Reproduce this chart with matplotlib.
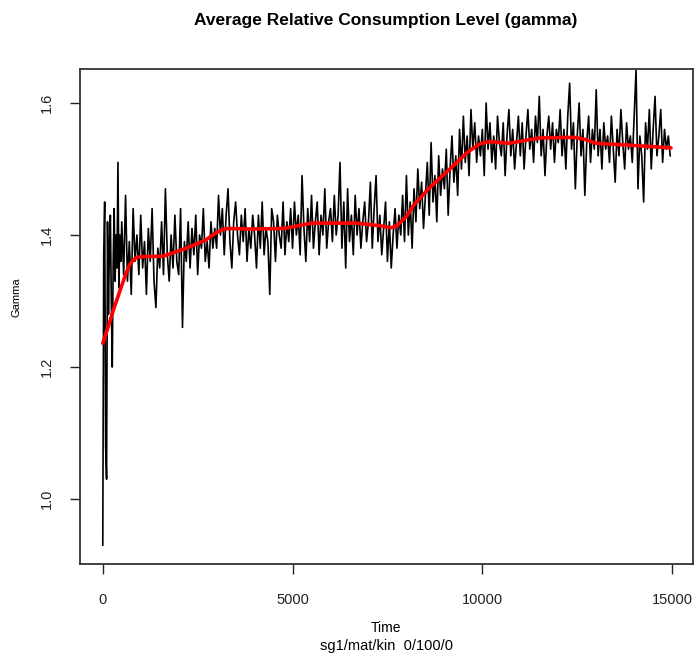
import numpy as np
import matplotlib
matplotlib.use('Agg')
import matplotlib.pyplot as plt

plt.rcParams['font.family'] = ['Liberation Sans', 'DejaVu Sans']

# time steps of the raw series (denser at the start)
time = np.concatenate([np.arange(0, 500, 25), np.arange(500, 15000, 50)])

gamma = [
    # 0 - 475 (step 25)
    0.93, 1.37, 1.45, 1.08, 1.03, 1.42, 1.28, 1.38, 1.43, 1.30,
    1.20, 1.36, 1.44, 1.33, 1.40, 1.35, 1.51, 1.32, 1.40, 1.36,
    # 500 - 950
    1.42, 1.34, 1.46, 1.33, 1.39, 1.31, 1.44, 1.36, 1.40, 1.34,
    # 1000 - 1950
    1.43, 1.35, 1.39, 1.31, 1.41, 1.36, 1.44, 1.33, 1.29, 1.38,
    1.35, 1.42, 1.34, 1.47, 1.37, 1.33, 1.40, 1.35, 1.43, 1.36,
    # 2000 - 2950
    1.34, 1.44, 1.26, 1.39, 1.36, 1.42, 1.35, 1.41, 1.37, 1.43,
    1.34, 1.40, 1.38, 1.44, 1.36, 1.39, 1.35, 1.42, 1.38, 1.41,
    # 3000 - 3950
    1.38, 1.46, 1.40, 1.44, 1.37, 1.43, 1.47, 1.39, 1.35, 1.42,
    1.45, 1.40, 1.37, 1.43, 1.39, 1.44, 1.36, 1.41, 1.38, 1.43,
    # 4000 - 4950
    1.40, 1.35, 1.43, 1.38, 1.45, 1.37, 1.41, 1.39, 1.31, 1.44,
    1.42, 1.36, 1.43, 1.40, 1.38, 1.45, 1.37, 1.42, 1.39, 1.44,
    # 5000 - 5950
    1.38, 1.45, 1.40, 1.43, 1.37, 1.49, 1.41, 1.36, 1.44, 1.39,
    1.46, 1.38, 1.42, 1.45, 1.37, 1.43, 1.40, 1.47, 1.38, 1.42,
    # 6000 - 6950
    1.44, 1.39, 1.46, 1.40, 1.43, 1.51, 1.38, 1.45, 1.35, 1.47,
    1.39, 1.43, 1.37, 1.46, 1.40, 1.44, 1.38, 1.42, 1.45, 1.39,
    # 7000 - 7950
    1.42, 1.48, 1.38, 1.44, 1.49, 1.39, 1.43, 1.37, 1.41, 1.45,
    1.36, 1.42, 1.35, 1.40, 1.44, 1.38, 1.43, 1.40, 1.46, 1.39,
    # 8000 - 8950
    1.49, 1.40, 1.45, 1.38, 1.47, 1.42, 1.50, 1.44, 1.48, 1.41,
    1.46, 1.51, 1.43, 1.54, 1.45, 1.49, 1.42, 1.52, 1.46, 1.50,
    # 9000 - 9950
    1.47, 1.53, 1.43, 1.50, 1.55, 1.48, 1.52, 1.46, 1.56, 1.50,
    1.58, 1.51, 1.55, 1.49, 1.59, 1.53, 1.57, 1.51, 1.55, 1.52,
    # 10000 - 10950
    1.56, 1.49, 1.60, 1.53, 1.57, 1.51, 1.55, 1.50, 1.58, 1.54,
    1.52, 1.57, 1.49, 1.55, 1.59, 1.52, 1.56, 1.50, 1.54, 1.58,
    # 11000 - 11950
    1.52, 1.57, 1.50, 1.55, 1.59, 1.53, 1.56, 1.51, 1.58, 1.54,
    1.61, 1.52, 1.56, 1.49, 1.55, 1.58, 1.53, 1.57, 1.51, 1.56,
    # 12000 - 12950
    1.54, 1.59, 1.52, 1.56, 1.50, 1.58, 1.63, 1.53, 1.57, 1.47,
    1.55, 1.60, 1.52, 1.56, 1.46, 1.54, 1.58, 1.51, 1.56, 1.53,
    # 13000 - 13950
    1.62, 1.52, 1.56, 1.50, 1.57, 1.53, 1.55, 1.51, 1.58, 1.53,
    1.48, 1.56, 1.52, 1.59, 1.54, 1.50, 1.57, 1.53, 1.55, 1.51,
    # 14000 - 14950
    1.58, 1.65, 1.47, 1.55, 1.52, 1.45, 1.57, 1.53, 1.59, 1.50,
    1.56, 1.61, 1.52, 1.55, 1.59, 1.51, 1.56, 1.53, 1.55, 1.52,
]

# smoothed trend (red)
smooth_t = [0, 150, 300, 450, 600, 700, 800, 900, 1000, 1600, 2200, 2700,
            2900, 3100, 3300, 3900, 4800, 5500, 6700, 7300, 7600, 7750, 8000,
            8200, 8600, 9200, 9600, 9900, 10100, 10300, 10700, 11500, 12400,
            12700, 13000, 13900, 14970]
smooth_v = [1.236, 1.262, 1.290, 1.315, 1.340, 1.354, 1.362, 1.366, 1.367,
            1.368, 1.380, 1.392, 1.400, 1.407, 1.410, 1.409, 1.410, 1.418,
            1.418, 1.414, 1.411, 1.414, 1.428, 1.446, 1.471, 1.503, 1.525,
            1.537, 1.541, 1.541, 1.539, 1.547, 1.548, 1.545, 1.539, 1.536,
            1.532]

fig = plt.figure(figsize=(6.94, 6.58), dpi=100)
ax = fig.add_axes([80 / 694, 94 / 658, 613 / 694, 495 / 658])

ax.plot(time, gamma, color='black', lw=1.2)
ax.plot(smooth_t, smooth_v, color='#ff0000', lw=2.6, solid_capstyle='round')

ax.set_xlim(-600, 15550)
ax.set_ylim(0.9015, 1.6515)
ax.set_xticks([0, 5000, 10000, 15000])
ax.set_yticks([1.0, 1.2, 1.4, 1.6])
ax.set_yticklabels(['1.0', '1.2', '1.4', '1.6'], rotation=90, va='center')
ax.tick_params(direction='out', length=7, width=1, labelsize=10.5, pad=14,
               colors='#222222')
ax.tick_params(axis='y', pad=12)
for s in ax.spines.values():
    s.set_linewidth(1.3)
    s.set_color('#333333')

fig.text(386 / 694, 1 - 20 / 658, 'Average Relative Consumption Level (gamma)',
         ha='center', va='center', fontsize=12.5, fontweight='bold')
fig.text(386 / 694, 1 - 628 / 658, 'Time', ha='center', va='center', fontsize=10)
fig.text(386 / 694, 1 - 646 / 658, 'sg1/mat/kin  0/100/0', ha='center',
         va='center', fontsize=10.5)
fig.text(17 / 694, 1 - 297 / 658, 'Gamma', ha='center', va='center',
         rotation=90, fontsize=8)

fig.savefig('out.png', dpi=100)
